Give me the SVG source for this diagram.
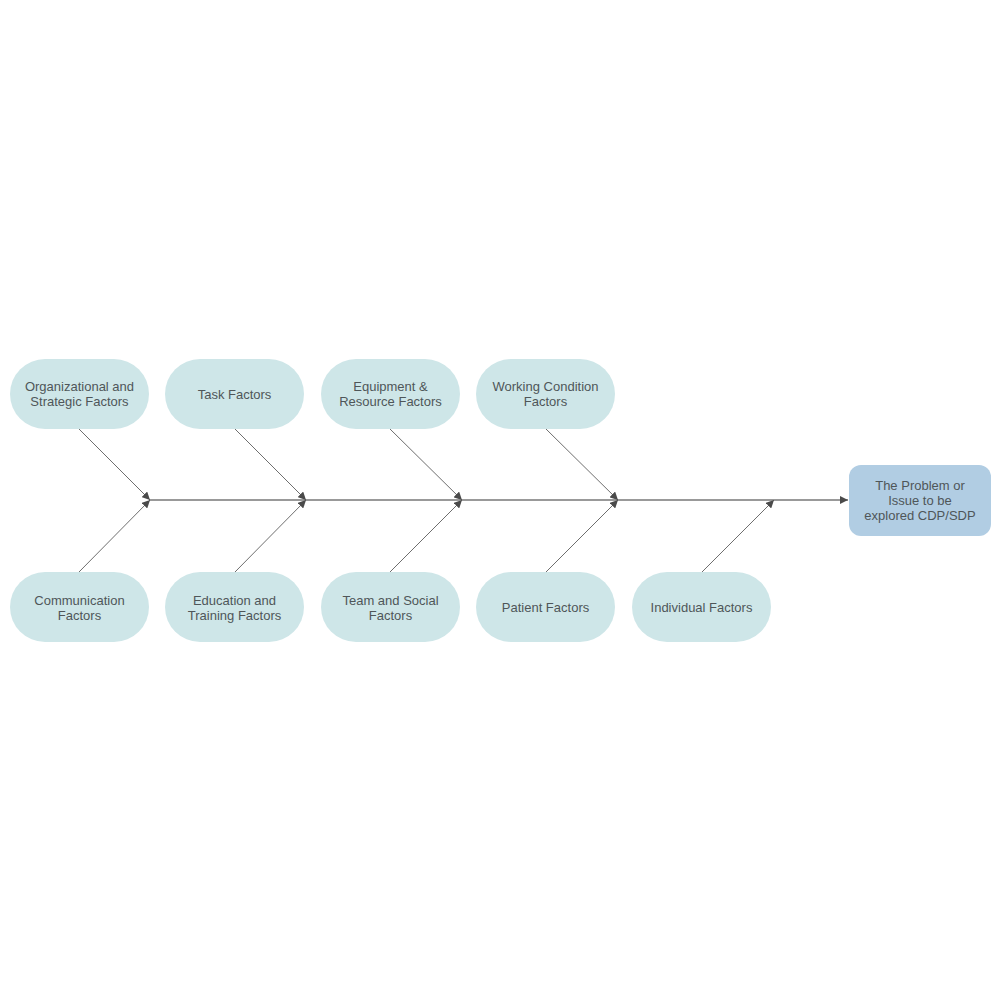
<svg xmlns="http://www.w3.org/2000/svg" width="1000" height="1000" viewBox="0 0 1000 1000">
<style>
.n{fill:#cee6e8;}
.p{fill:#b1cde3;}
.t{font-family:"Liberation Sans",Arial,sans-serif;font-size:13px;fill:#4f5659;text-anchor:middle;}
.c{stroke:#6e6e6e;stroke-width:1;fill:none;marker-end:url(#a);}
.s{stroke:#777;stroke-width:1.3;fill:none;marker-end:url(#a);}
</style>
<defs>
<marker id="a" viewBox="0 0 10 10" refX="10" refY="5" markerWidth="8" markerHeight="8" markerUnits="userSpaceOnUse" orient="auto">
<path d="M0,0 L10,5 L0,10 z" fill="#4a4a4a"/>
</marker>
</defs>
<rect width="1000" height="1000" fill="#fff"/>
<g id="connectors">
<line class="s" x1="150" y1="500" x2="848" y2="500"/>
<line class="c" x1="79" y1="429" x2="150" y2="500"/>
<line class="c" x1="235" y1="429" x2="306" y2="500"/>
<line class="c" x1="390" y1="429" x2="462" y2="500"/>
<line class="c" x1="546" y1="429" x2="618" y2="500"/>
<line class="c" x1="79" y1="572" x2="150" y2="500"/>
<line class="c" x1="235" y1="572" x2="306" y2="500"/>
<line class="c" x1="390" y1="572" x2="462" y2="500"/>
<line class="c" x1="546" y1="572" x2="618" y2="500"/>
<line class="c" x1="702" y1="572" x2="774" y2="500"/>
</g>
<g id="n1"><rect class="n" x="10" y="359" width="139" height="70" rx="35"/><text class="t" x="79.5" y="391">Organizational and</text><text class="t" x="79.5" y="406">Strategic Factors</text></g>
<g id="n2"><rect class="n" x="165" y="359" width="139" height="70" rx="35"/><text class="t" x="234.5" y="398.5">Task Factors</text></g>
<g id="n3"><rect class="n" x="321" y="359" width="139" height="70" rx="35"/><text class="t" x="390.5" y="391">Equipment &amp;</text><text class="t" x="390.5" y="406">Resource Factors</text></g>
<g id="n4"><rect class="n" x="476" y="359" width="139" height="70" rx="35"/><text class="t" x="545.5" y="391">Working Condition</text><text class="t" x="545.5" y="406">Factors</text></g>
<g id="n5"><rect class="n" x="10" y="572" width="139" height="70" rx="35"/><text class="t" x="79.5" y="604.5">Communication</text><text class="t" x="79.5" y="619.5">Factors</text></g>
<g id="n6"><rect class="n" x="165" y="572" width="139" height="70" rx="35"/><text class="t" x="234.5" y="604.5">Education and</text><text class="t" x="234.5" y="619.5">Training Factors</text></g>
<g id="n7"><rect class="n" x="321" y="572" width="139" height="70" rx="35"/><text class="t" x="390.5" y="604.5">Team and Social</text><text class="t" x="390.5" y="619.5">Factors</text></g>
<g id="n8"><rect class="n" x="476" y="572" width="139" height="70" rx="35"/><text class="t" x="545.5" y="612">Patient Factors</text></g>
<g id="n9"><rect class="n" x="632" y="572" width="139" height="70" rx="35"/><text class="t" x="701.5" y="612">Individual Factors</text></g>
<g id="problem"><rect class="p" x="849" y="465" width="142" height="71" rx="12"/><text class="t" x="920" y="490">The Problem or</text><text class="t" x="920" y="505">Issue to be</text><text class="t" x="920" y="520">explored CDP/SDP</text></g>
</svg>
